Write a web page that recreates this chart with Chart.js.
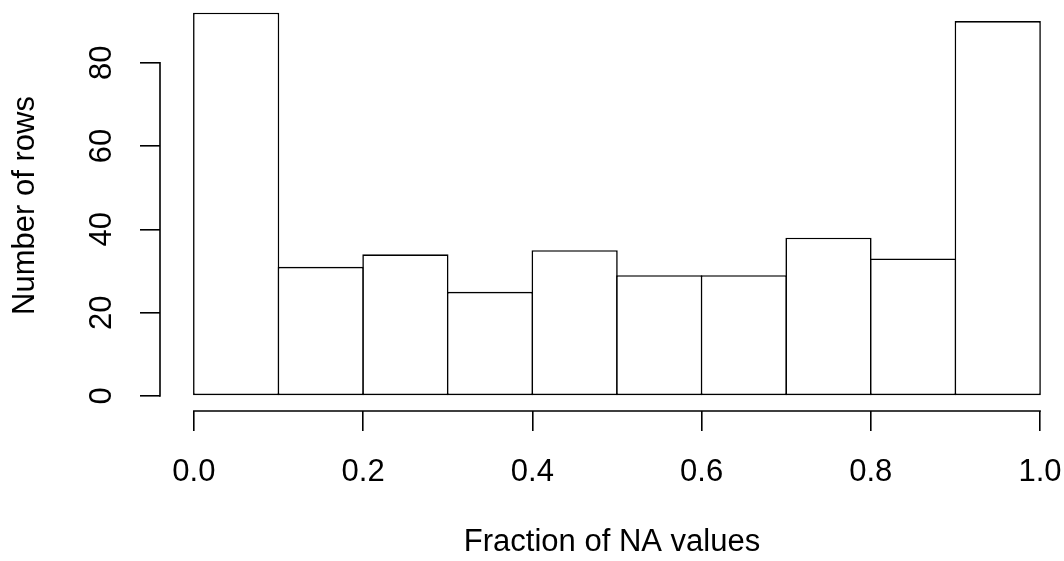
<!DOCTYPE html>
<html>
<head>
<meta charset="utf-8">
<script src="https://cdn.jsdelivr.net/npm/chart.js@4/dist/chart.umd.min.js"></script>
<style>
  html, body { margin: 0; padding: 0; background: #ffffff; }
  #wrap { width: 1064px; height: 561px; position: relative; }
</style>
</head>
<body>
<div id="wrap"><canvas id="c" width="1064" height="561"></canvas></div>
<script>
// ---- data ----
const binStarts = [0.0, 0.1, 0.2, 0.3, 0.4, 0.5, 0.6, 0.7, 0.8, 0.9];
const binWidth = 0.1;
const counts = [92, 31, 34, 25, 35, 29, 29, 38, 33, 90];
const xTicks = [0.0, 0.2, 0.4, 0.6, 0.8, 1.0];
const yTicks = [0, 20, 40, 60, 80];
const xTitle = 'Fraction of NA values';
const yTitle = 'Number of rows';

const FONT = '"Liberation Sans", Arial, Helvetica, sans-serif';
const FS = 31;
const LW = 1.6;
const X_MIN = -0.04, X_MAX = 1.0283;
const Y_MIN = -3.6, Y_MAX = 95.05;
const Y_AXIS_W = 160, X_AXIS_H = 150, W = 1064;

// bars overlap by one line width so shared edges are drawn once (like R's hist)
const pxPerBin = (W - Y_AXIS_W) * binWidth / (X_MAX - X_MIN);
const barPct = (pxPerBin + LW) / pxPerBin;

const points = binStarts.map((s, i) => ({ x: s + binWidth / 2, y: counts[i] }));

const rAxisLines = {
  id: 'rAxisLines',
  afterDraw(chart) {
    const { ctx, chartArea, scales: { x, y } } = chart;
    ctx.save();
    ctx.strokeStyle = '#000';
    ctx.lineWidth = LW;
    ctx.beginPath();
    const yb = chartArea.bottom;
    ctx.moveTo(x.getPixelForValue(xTicks[0]) - LW / 2, yb);
    ctx.lineTo(x.getPixelForValue(xTicks[xTicks.length - 1]) + LW / 2, yb);
    const xl = chartArea.left;
    ctx.moveTo(xl, y.getPixelForValue(yTicks[0]) + LW / 2);
    ctx.lineTo(xl, y.getPixelForValue(yTicks[yTicks.length - 1]) - LW / 2);
    ctx.stroke();
    ctx.restore();
  }
};

new Chart(document.getElementById('c'), {
  type: 'bar',
  data: {
    datasets: [{
      data: points,
      backgroundColor: '#ffffff',
      borderColor: '#000000',
      borderSkipped: false,
      borderWidth: LW,
      inflateAmount: 0,
      barPercentage: barPct,
      categoryPercentage: 1.0
    }]
  },
  options: {
    responsive: false,
    animation: false,
    events: [],
    layout: { padding: 0 },
    plugins: { legend: { display: false }, tooltip: { enabled: false } },
    scales: {
      x: {
        type: 'linear',
        position: 'bottom',
        min: X_MIN,
        max: X_MAX,
        offset: false,
        border: { display: false },
        grid: { offset: false, drawOnChartArea: false, drawTicks: true, tickLength: 20, color: '#000', lineWidth: LW },
        afterBuildTicks: (s) => { s.ticks = xTicks.map(v => ({ value: v })); },
        afterFit: (s) => { s.height = X_AXIS_H; s.paddingLeft = 0; s.paddingRight = 0; },
        ticks: {
          color: '#000',
          padding: 23,
          maxRotation: 0, minRotation: 0,
          font: { family: FONT, size: FS },
          callback: (v) => Number(v).toFixed(1)
        },
        title: {
          display: true, text: xTitle, color: '#000',
          font: { family: FONT, size: FS },
          padding: { top: 0, bottom: 0 }
        }
      },
      y: {
        type: 'linear',
        position: 'left',
        min: Y_MIN,
        max: Y_MAX,
        border: { display: false },
        grid: { offset: false, drawOnChartArea: false, drawTicks: true, tickLength: 20, color: '#000', lineWidth: LW },
        afterBuildTicks: (s) => { s.ticks = yTicks.map(v => ({ value: v })); },
        afterFit: (s) => { s.width = Y_AXIS_W; s.paddingTop = 0; s.paddingBottom = 0; },
        ticks: {
          color: '#000',
          padding: 20,
          minRotation: 90, maxRotation: 90,
          crossAlign: 'center',
          font: { family: FONT, size: FS },
          callback: (v) => String(v)
        },
        title: {
          display: true, text: yTitle, color: '#000',
          font: { family: FONT, size: FS },
          padding: { top: 7, bottom: 0 }
        }
      }
    }
  },
  plugins: [rAxisLines]
});
</script>
</body>
</html>
